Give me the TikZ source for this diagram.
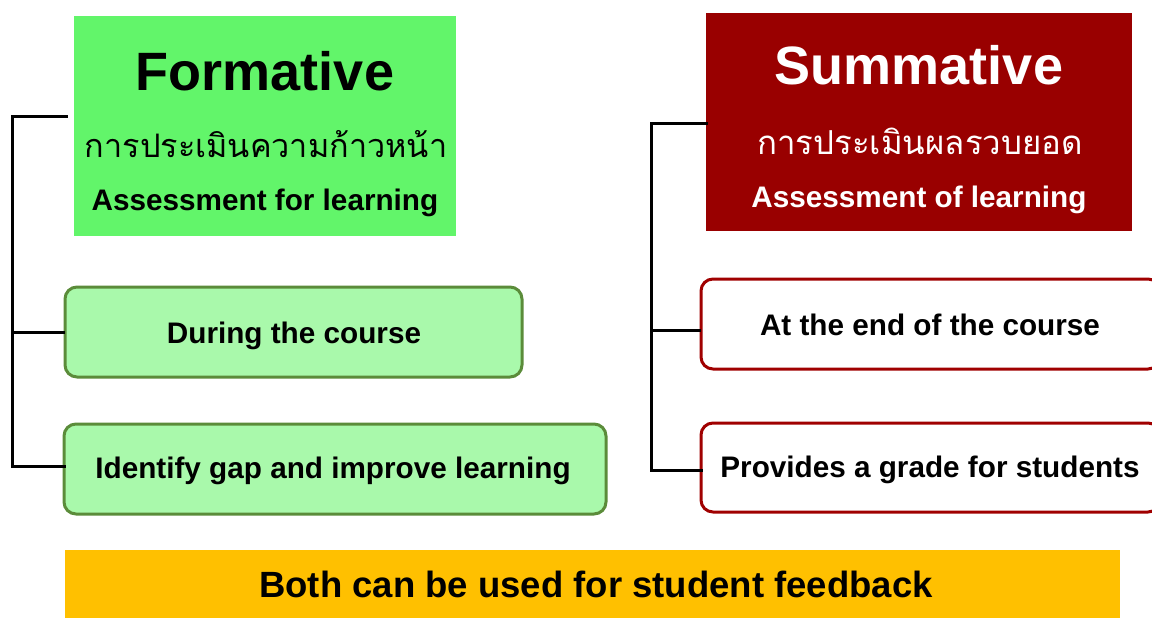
\documentclass[tikz,border=0pt]{standalone}
\usepackage{fontspec}
\setmainfont{Liberation Sans}
\newfontfamily\thaifont[Script=Thai]{Loma}
\definecolor{hdrgreen}{HTML}{62F56A}
\definecolor{boxgreen}{HTML}{A9F9AB}
\definecolor{edgegreen}{HTML}{5B8C3A}
\definecolor{hdrred}{HTML}{990000}
\definecolor{edgered}{HTML}{A00000}
\definecolor{barorange}{HTML}{FFC000}
\tikzset{
  px/.style={x=1pt,y=-1pt},
  hdrbox/.style={draw=none,inner sep=0pt,outer sep=0pt},
  itembox/.style={line width=3pt,rounded corners=12pt,inner sep=0pt,outer sep=0pt},
  bracket/.style={line width=3pt,draw=black},
  txt/.style={anchor=base,inner sep=0pt,font=\bfseries\fontsize{29.7}{34}\selectfont},
}
\begin{document}
\begin{tikzpicture}[px]
\useasboundingbox (0,0) rectangle (1152,619);
% headers
\fill[hdrgreen] (74,16) rectangle (456,236);
\node[hdrbox,minimum width=382pt,minimum height=220pt] (form) at (265,126) {};
\fill[hdrred] (706,13) rectangle (1132,231);
\node[hdrbox,minimum width=426pt,minimum height=218pt] (summ) at (919,122) {};
\node[txt,font=\bfseries\fontsize{54}{60}\selectfont] (formt) at (265,90) {Formative};
\node[txt,font=\thaifont\fontsize{32.4}{40}\selectfont] (formth) at (266,157) {การประเมินความก้าวหน้า};
\node[txt] (forma) at (265,210) {Assessment for learning};
\node[txt,text=white,font=\bfseries\fontsize{54}{60}\selectfont] (summt) at (919,84) {Summative};
\node[txt,text=white,font=\thaifont\fontsize{33}{40}\selectfont] (summth) at (920,154) {การประเมินผลรวบยอด};
\node[txt,text=white] (summa) at (919,207) {Assessment of learning};
% left items
\draw[itembox,draw=edgegreen,fill=boxgreen] (65,287) rectangle (522,377);
\coordinate (dur) at (65,332);
\node[txt] (durt) at (294,343) {During the course};
\draw[itembox,draw=edgegreen,fill=boxgreen] (64,424) rectangle (606,514);
\coordinate (idf) at (64,466);
\node[txt] (idft) at (333,478) {Identify gap and improve learning};
% right items
\draw[itembox,draw=edgered,fill=white] (701,279) rectangle (1160,369);
\coordinate (atend) at (701,330);
\node[txt] (atendt) at (930,335) {At the end of the course};
\draw[itembox,draw=edgered,fill=white] (701,423) rectangle (1160,512);
\coordinate (prov) at (701,470);
\node[txt] (provt) at (930,477) {Provides a grade for students};
% bottom bar
\fill[barorange] (65,550) rectangle (1120,618);
\node[txt,font=\bfseries\fontsize{36.5}{42}\selectfont] (both) at (596,597) {Both can be used for student feedback};
% brackets
\coordinate (l1) at (12,116);
\coordinate (l1e) at (66,116);
\coordinate (l2) at (12,332);
\coordinate (l3) at (12,466);
\draw[bracket,line cap=rect] (l1e) -- (l1) -- (l3) -- (idf);
\draw[bracket] (l2) -- (dur);
\coordinate (r1) at (651,123);
\coordinate (r1e) at (706,123);
\coordinate (r2) at (651,330);
\coordinate (r3) at (651,470);
\draw[bracket,line cap=rect] (r1e) -- (r1) -- (r3) -- (prov);
\draw[bracket] (r2) -- (atend);
\end{tikzpicture}
\end{document}
